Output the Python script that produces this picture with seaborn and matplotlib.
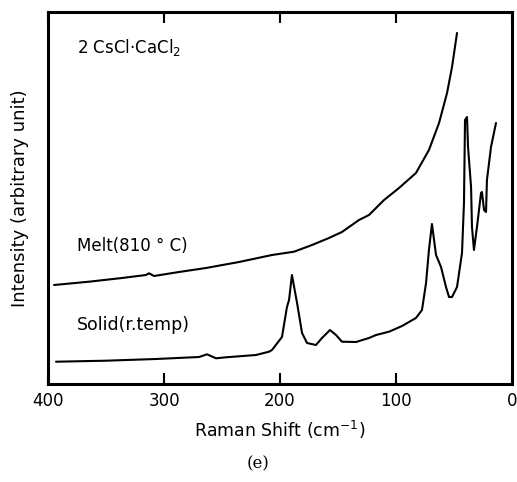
import matplotlib
matplotlib.use("Agg")
import matplotlib.pyplot as plt
import seaborn as sns
import pandas as pd

# Melt (810 C) spectrum: Raman shift (cm-1) and intensity (arbitrary)
melt_shift = [394.8, 364.7, 336.2, 315.5, 312.9, 308.6, 287.1, 263.8, 235.3, 206.9, 187.9,
              172.4, 157.8, 146.6, 131.9, 123.3, 110.3, 97.4, 82.8, 71.6, 62.9, 56.0, 51.7, 47.4]
melt_int = [99, 102.3, 106, 109, 110.7, 108, 112, 116, 122, 129, 132.3,
            139, 146, 152, 164, 169, 184, 196, 211, 234, 261, 291, 317, 351]

# Solid (room temperature) spectrum
solid_shift = [393.1, 350, 306.9, 269.8, 262.9, 255.2, 246.6, 220.7, 209.5, 206.9, 198.3,
               194, 192.2, 189.7, 185.3, 181, 176.7, 169, 163.8, 156.9, 151.7, 146.6,
               134.5, 123.3, 117.2, 106, 94.8, 82.8, 77.6, 74.1, 71.6, 69, 65.5, 61.2,
               56.9, 54.3, 51.7, 47.4, 43.1, 41.4, 40.5, 38.8, 37.9, 35.3, 34.5, 32.8,
               30.2, 26.7, 25.9, 24.1, 22.4, 21.6, 18.1, 13.8]
solid_int = [22.3, 23.3, 25, 27, 29.7, 25.7, 26.7, 29, 32.3, 34, 47,
             77, 84, 109, 81, 51, 41, 39, 46, 54, 49, 42.3,
             42, 46, 49, 52.3, 58, 66, 74, 101, 134, 160, 129, 117,
             97, 87, 87, 97, 131, 181, 264, 267, 237, 197, 157, 134,
             157, 191, 192, 174, 172, 204, 237, 261]

x_ticks = [400, 300, 200, 100, 0]

sns.set_style("white")
plt.rcParams['font.family'] = ['DejaVu Sans']
plt.rcParams['text.color'] = 'black'
plt.rcParams['axes.labelcolor'] = 'black'
plt.rcParams['xtick.color'] = 'black'

fig = plt.figure(figsize=(5.17, 4.82), dpi=100)
ax = fig.add_axes([48 / 517, 1 - 384 / 482, 464 / 517, 372 / 482])

melt = pd.DataFrame({"shift": melt_shift, "intensity": melt_int})
solid = pd.DataFrame({"shift": solid_shift, "intensity": solid_int})
sns.lineplot(data=melt, x="shift", y="intensity", ax=ax, color="black", lw=1.5, sort=False)
sns.lineplot(data=solid, x="shift", y="intensity", ax=ax, color="black", lw=1.5, sort=False)

ax.set_xlim(400, 0)
ax.set_ylim(0, 372)
ax.set_xticks(x_ticks)
ax.set_xticklabels([str(t) for t in x_ticks], fontsize=12)
ax.set_yticks([])
ax.tick_params(axis="x", direction="in", length=8, width=1.5, top=True, bottom=True, pad=6)
for s in ax.spines.values():
    s.set_linewidth(2.2)
    s.set_color("black")

ax.set_xlabel("Raman Shift (cm$^{-1}$)", fontsize=12.5, labelpad=6)
ax.set_ylabel("Intensity (arbitrary unit)", fontsize=13, labelpad=14)

ax.text(0.062, 0.905, "2 CsCl·CaCl$_2$", transform=ax.transAxes, fontsize=12, va="center")
ax.text(0.062, 0.37, "Melt(810 ° C)", transform=ax.transAxes, fontsize=12, va="center")
ax.text(0.062, 0.158, "Solid(r.temp)", transform=ax.transAxes, fontsize=12.5, va="center")

fig.text(258 / 517, 1 - 464 / 482, "(e)", fontsize=12, family="DejaVu Serif", ha="center", va="center")

fig.savefig("out.png", dpi=100)
